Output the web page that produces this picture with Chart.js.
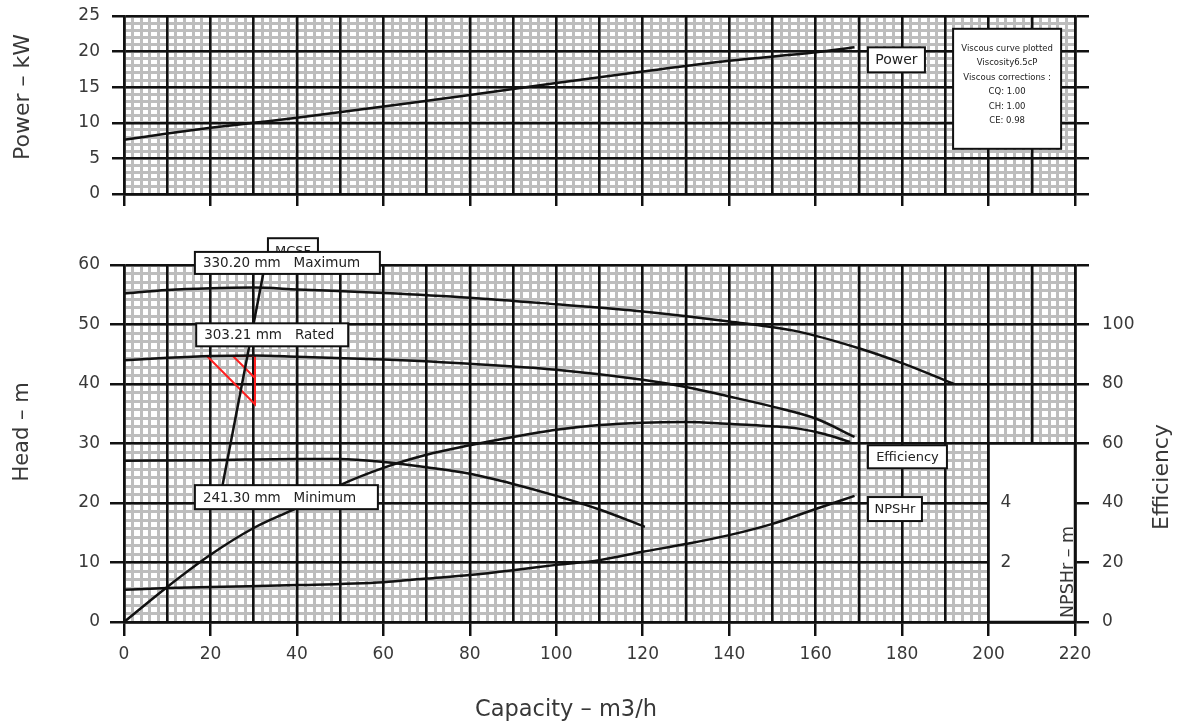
<!DOCTYPE html>
<html>
<head>
<meta charset="utf-8">
<script src="https://cdn.jsdelivr.net/npm/chart.js@4.4.1/dist/chart.umd.min.js"></script>
<style>
  html, body { margin: 0; padding: 0; background: #fff; }
  #top { position: absolute; left: 0; top: 0; width: 1181px; height: 215px; }
  #bottom { position: absolute; left: 0; top: 215px; width: 1181px; height: 510px; }
</style>
</head>
<body>
<div id="top"><canvas id="powerChart"></canvas></div>
<div id="bottom"><canvas id="headChart"></canvas></div>
<script>
// capacity in m3/h, head in m, power in kW, efficiency in %, NPSHr in m
const capPower = [0, 10, 20, 30, 40, 60, 80, 100, 120, 140, 160, 169];
const power = [7.6, 8.5, 9.3, 10.0, 10.7, 12.3, 13.9, 15.6, 17.2, 18.7, 19.9, 20.6];

const capMax = [0, 10, 20, 30, 40, 60, 80, 100, 120, 140, 156, 170, 180, 192];
const headMax = [55.2, 55.8, 56.1, 56.2, 55.9, 55.3, 54.5, 53.4, 52.2, 50.5, 48.8, 46.0, 43.5, 40.0];

const capRated = [0, 10, 20, 30, 40, 60, 80, 100, 120, 130, 140, 150, 160, 169];
const headRated = [44.0, 44.4, 44.7, 44.8, 44.6, 44.1, 43.4, 42.4, 40.7, 39.5, 37.9, 36.2, 34.2, 31.1];

const capMin = [0, 20, 40, 50, 60, 70, 80, 90, 100, 110, 120.5];
const headMin = [27.1, 27.2, 27.4, 27.4, 26.9, 26.0, 24.9, 23.2, 21.2, 18.9, 16.0];

const capEff = [0, 10, 20, 30, 40, 50, 60, 70, 80, 90, 100, 110, 120, 130, 140, 150, 156, 162, 168];
const efficiency = [0, 11.8, 22.6, 31.6, 38.4, 46.0, 51.8, 56.2, 59.4, 62.2, 64.6, 66.2, 67.0, 67.2, 66.6, 65.8, 65.0, 63.2, 60.5];

const capNpsh = [0, 10, 20, 40, 60, 70, 80, 90, 100, 110, 120, 130, 140, 150, 160, 169];
const npshr = [1.08, 1.14, 1.18, 1.24, 1.34, 1.46, 1.58, 1.74, 1.92, 2.08, 2.36, 2.62, 2.92, 3.3, 3.8, 4.24];

// minimum continuous stable flow line and rated point marker
const capMcsf = [22.4, 32.6];
const headMcsf = [21.5, 60];
const capRatedPt = [19.2, 30.3, 30.3, 19.2];
const headRatedPt = [44.7, 44.7, 36.6, 44.7];
const capRatedTick = [25.2, 30.3];
const headRatedTick = [44.7, 41.0];

const npshTicks = [2, 4];
const viscousNotes = ["Viscous curve plotted", "Viscosity6.5cP", "Viscous corrections :", "CQ: 1.00", "CH: 1.00", "CE: 0.98"];

const INK = "#111";
const TEXT = "#383838";
const MINOR = "#bdbdbd";
const LINE_W = 2.5;

Chart.defaults.font.family = "'DejaVu Sans', 'Noto Sans', sans-serif";
Chart.defaults.color = TEXT;

const pts = (xs, ys) => xs.map((x, i) => ({ x, y: ys[i] }));
// fixed axis sizes so both panels line up with the reference frame
const fixWidth = (w) => (s) => { s.width = w; s.paddingTop = 0; s.paddingBottom = 0; };
const fixHeight = (h) => (s) => { s.height = h; s.paddingLeft = 0; s.paddingRight = 0; };
const every20 = (c) => (c.tick && c.tick.value % 20 === 0 ? INK : "rgba(0,0,0,0)");

const curve = (data, extra) => Object.assign({
  data, showLine: true, borderColor: INK, borderWidth: LINE_W,
  pointRadius: 0, cubicInterpolationMode: "monotone", fill: false,
  xAxisID: "x", yAxisID: "y",
}, extra);

const minorAxis = (pos, max, step, fit) => ({
  type: "linear", position: pos, min: 0, max: max, z: -1,
  ticks: { display: false, stepSize: step },
  grid: { color: MINOR, lineWidth: 3, drawTicks: false },
  border: { display: false },
  afterFit: fit,
});

// draws text, label boxes and the blank NPSHr panel
const panelText = {
  id: "panelText",
  beforeDatasetsDraw(chart, args, opts) {
    const b = opts.blank;
    if (!b) return;
    const { ctx } = chart;
    const sx = chart.scales.x, sy = chart.scales.y;
    const l = sx.getPixelForValue(b.x0), r = sx.getPixelForValue(b.x1);
    const t = sy.getPixelForValue(b.y1), bt = sy.getPixelForValue(b.y0);
    ctx.save();
    ctx.fillStyle = "#fff";
    ctx.fillRect(l, t, r - l, bt - t);
    ctx.strokeStyle = INK;
    ctx.lineWidth = LINE_W;
    ctx.strokeRect(l, t, r - l, bt - t);
    ctx.restore();
  },
  afterDatasetsDraw(chart, args, opts) {
    const { ctx } = chart;
    const sx = chart.scales.x;
    ctx.save();

    (opts.boxes || []).forEach((bx) => {
      const sy = chart.scales[bx.axis || "y"];
      const left = sx.getPixelForValue(bx.cap);
      const top = sy.getPixelForValue(bx.val);
      ctx.fillStyle = "#fff";
      ctx.fillRect(left, top, bx.w, bx.h);
      ctx.lineWidth = 2;
      ctx.strokeStyle = INK;
      ctx.strokeRect(left, top, bx.w, bx.h);
      ctx.fillStyle = "#222";
      ctx.font = (bx.size || 13.5) + "px 'DejaVu Sans'";
      ctx.textBaseline = "middle";
      const lines = bx.lines || [bx.text];
      lines.forEach((line, i) => {
        const y = bx.lines ? top + bx.lineTop + i * bx.lineGap : top + bx.h / 2 + 1;
        if (bx.align === "center") {
          ctx.textAlign = "center";
          ctx.fillText(line, left + bx.w / 2, y);
        } else {
          ctx.textAlign = "left";
          ctx.fillText(line, left + 8, y);
        }
      });
    });

    if (opts.innerTicks) {
      const it = opts.innerTicks;
      const sy = chart.scales[it.axis];
      ctx.fillStyle = TEXT;
      ctx.font = "17px 'DejaVu Sans'";
      ctx.textAlign = "center";
      ctx.textBaseline = "middle";
      it.values.forEach((v) => ctx.fillText(String(v), sx.getPixelForValue(it.cap), sy.getPixelForValue(v)));
    }

    (opts.titles || []).forEach((tt) => {
      ctx.save();
      ctx.translate(tt.x, tt.y);
      if (tt.rot) ctx.rotate(tt.rot);
      ctx.fillStyle = tt.color || TEXT;
      ctx.font = tt.size + "px 'DejaVu Sans'";
      ctx.textAlign = "center";
      ctx.textBaseline = "middle";
      ctx.fillText(tt.text, 0, 0);
      ctx.restore();
    });
    ctx.restore();
  },
};

// top panel: power
new Chart(document.getElementById("powerChart"), {
  type: "scatter",
  data: {
    datasets: [curve(pts(capPower, power), { label: "Power" })],
  },
  plugins: [panelText],
  options: {
    responsive: true,
    maintainAspectRatio: false,
    animation: false,
    layout: { padding: { top: 16, left: 0, right: 0, bottom: 0 } },
    plugins: {
      legend: { display: false },
      tooltip: { enabled: false },
      panelText: {
        boxes: [
          { text: "Power", cap: 172.1, val: 20.6, w: 57, h: 25, align: "center", size: 14 },
          { lines: viscousNotes, cap: 191.8, val: 23.2, w: 108, h: 120, align: "center",
            size: 8.5, lineTop: 20, lineGap: 14.4 },
        ],
        titles: [
          { text: "Power \u2013 kW", x: 23, y: 97, rot: -Math.PI / 2, size: 22 },
        ],
      },
    },
    scales: {
      yMinor: minorAxis("left", 25, 1, fixWidth(0)),
      xMinor: minorAxis("bottom", 220, 2, fixHeight(0)),
      x: {
        type: "linear", position: "bottom", min: 0, max: 220,
        ticks: { display: false, stepSize: 10 },
        grid: { color: INK, lineWidth: LINE_W, tickLength: 12, tickColor: every20 },
        border: { color: INK, width: LINE_W },
        afterFit: fixHeight(21),
      },
      y: {
        type: "linear", position: "left", min: 0, max: 25,
        ticks: { stepSize: 5, padding: 12, font: { size: 17 }, color: TEXT },
        grid: { color: INK, lineWidth: LINE_W, tickLength: 12 },
        border: { color: INK, width: LINE_W },
        afterFit: fixWidth(124),
      },
      yR: {
        type: "linear", position: "right", min: 0, max: 25,
        ticks: { display: false, stepSize: 5 },
        grid: { color: INK, lineWidth: LINE_W, tickLength: 14, drawOnChartArea: false },
        border: { color: INK, width: LINE_W },
        afterFit: fixWidth(106),
      },
    },
  },
});

// bottom panel: head, efficiency, NPSHr
new Chart(document.getElementById("headChart"), {
  type: "scatter",
  data: {
    datasets: [
      curve(pts(capMax, headMax), { label: "330.20 mm Maximum" }),
      curve(pts(capRated, headRated), { label: "303.21 mm Rated" }),
      curve(pts(capMin, headMin), { label: "241.30 mm Minimum" }),
      curve(pts(capEff, efficiency), { label: "Efficiency", yAxisID: "yE" }),
      curve(pts(capNpsh, npshr), { label: "NPSHr", yAxisID: "yN" }),
      curve(pts(capMcsf, headMcsf), { label: "MCSF", cubicInterpolationMode: "default", tension: 0 }),
      curve(pts(capRatedPt, headRatedPt), { label: "Rated point", borderColor: "#ff1f1f", borderWidth: 2, cubicInterpolationMode: "default", tension: 0 }),
      curve(pts(capRatedTick, headRatedTick), { label: "Rated point tick", borderColor: "#ff1f1f", borderWidth: 2, cubicInterpolationMode: "default", tension: 0 }),
    ],
  },
  plugins: [panelText],
  options: {
    responsive: true,
    maintainAspectRatio: false,
    animation: false,
    layout: { padding: { top: 50, left: 0, right: 0, bottom: 0 } },
    plugins: {
      legend: { display: false },
      tooltip: { enabled: false },
      panelText: {
        blank: { x0: 200, x1: 220, y0: 0, y1: 30 },
        innerTicks: { values: npshTicks, axis: "yN", cap: 204 },
        boxes: [
          { text: "MCSF", cap: 33.3, val: 64.5, w: 50, h: 24, align: "center", size: 13 },
          { text: "330.20 mm\u00a0\u00a0\u00a0Maximum", cap: 16.4, val: 62.2, w: 185, h: 22 },
          { text: "303.21 mm\u00a0\u00a0\u00a0Rated", cap: 16.7, val: 50.2, w: 152, h: 23 },
          { text: "241.30 mm\u00a0\u00a0\u00a0Minimum", cap: 16.4, val: 23.0, w: 183, h: 24 },
          { text: "Efficiency", cap: 172.1, val: 29.7, w: 79, h: 23, align: "center", size: 13 },
          { text: "NPSHr", cap: 172.1, val: 21.0, w: 54, h: 24, align: "center", size: 13 },
        ],
        titles: [
          { text: "Head \u2013 m", x: 23, y: 217, rot: -Math.PI / 2, size: 21 },
          { text: "Efficiency", x: 1162, y: 262, rot: -Math.PI / 2, size: 22 },
          { text: "NPSHr \u2013 m", x: 1068, y: 357, rot: -Math.PI / 2, size: 17.5 },
          { text: "Capacity \u2013 m3/h", x: 566, y: 495, size: 22.5 },
        ],
      },
    },
    scales: {
      yMinor: minorAxis("left", 42, 1, fixWidth(0)),
      xMinor: minorAxis("bottom", 220, 2, fixHeight(0)),
      x: {
        type: "linear", position: "bottom", min: 0, max: 220,
        ticks: {
          stepSize: 10, padding: 8, autoSkip: false, maxRotation: 0,
          font: { size: 17 }, color: TEXT,
          callback: (v) => (v % 20 === 0 ? v : ""),
        },
        grid: { color: INK, lineWidth: LINE_W, tickLength: 14, tickColor: every20 },
        border: { color: INK, width: LINE_W },
        afterFit: fixHeight(103),
      },
      y: {
        type: "linear", position: "left", min: 0, max: 60,
        ticks: { stepSize: 10, padding: 10, font: { size: 17 }, color: TEXT },
        grid: { color: INK, lineWidth: LINE_W, tickLength: 14 },
        border: { color: INK, width: LINE_W },
        afterFit: fixWidth(124),
      },
      yE: {
        type: "linear", position: "right", min: 0, max: 120,
        ticks: {
          stepSize: 20, padding: 13, font: { size: 17 }, color: TEXT,
          callback: (v) => (v === 120 ? "" : v),
        },
        grid: { color: INK, lineWidth: LINE_W, tickLength: 14, drawOnChartArea: false },
        border: { color: INK, width: LINE_W },
        afterFit: fixWidth(106),
      },
      yN: { type: "linear", position: "right", min: 0, max: 12, display: false },
    },
  },
});
</script>
</body>
</html>
